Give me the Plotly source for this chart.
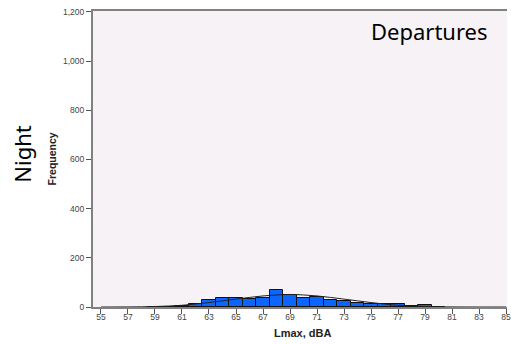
import plotly.graph_objects as go

# Histogram bins (Lmax, dBA, 1-dB bins centred on integers) and counts
bin_centers = [59, 60, 61, 62, 63, 64, 65, 66, 67, 68, 69, 70, 71, 72, 73, 74, 75, 76, 77, 78, 79, 80]
counts      = [1, 2, 5, 14, 27, 38, 38, 34, 37, 68, 50, 38, 41, 27, 23, 18, 12, 14, 13, 4, 7, 2]

# Fitted normal curve
curve_x = [55, 56, 57, 58, 59, 60, 61, 62, 63, 64, 65, 66, 67, 68, 69, 70,
           71, 72, 73, 74, 75, 76, 77, 78, 79, 80, 81, 82, 83, 84, 85]
curve_y = [0, 0.1, 0.3, 0.8, 2, 4, 7, 12, 18, 25, 32, 39, 45, 49, 51, 49,
           45, 39, 32, 25, 18, 12, 7, 4, 2, 0.8, 0.3, 0.1, 0, 0, 0]

x_ticks = list(range(55, 86, 2))
y_ticks = [0, 200, 400, 600, 800, 1000, 1200]

fig = go.Figure()
fig.add_trace(go.Bar(
    x=bin_centers, y=counts, width=1,
    marker=dict(color="#0A66FF", line=dict(color="#111111", width=1)),
    showlegend=False, hoverinfo="x+y"))
fig.add_trace(go.Scatter(
    x=curve_x, y=curve_y, mode="lines",
    line=dict(color="#222222", width=1, shape="spline"),
    showlegend=False))

fig.update_layout(
    width=511, height=344,
    margin=dict(l=93, r=0, t=11, b=37),
    paper_bgcolor="white",
    plot_bgcolor="#F7F2F6",
    bargap=0,
    font=dict(family="Arial, Liberation Sans", size=8.5, color="#444444"),
    xaxis=dict(
        range=[54.41, 85.07], tickvals=x_ticks,
        showline=True, linecolor="#808080", linewidth=2, mirror=True,
        ticks="outside", ticklen=5, tickcolor="#555555", tickwidth=1,
        ticklabelstandoff=-4, ticklabeloverflow="allow",
        showgrid=False, zeroline=False,
        tickfont=dict(size=8.5, color="#444444")),
    yaxis=dict(
        range=[0, 1204], tickvals=y_ticks, tickformat=",",
        showline=True, linecolor="#808080", linewidth=2,
        ticks="outside", ticklen=5, tickcolor="#555555", tickwidth=1,
        showgrid=False, zeroline=False,
        tickfont=dict(size=8.5, color="#444444")),
    annotations=[
        dict(text="Departures", xref="paper", yref="paper",
             x=(372 - 93) / 418, y=1 - (31 - 11) / 296,
             xanchor="left", yanchor="middle", showarrow=False,
             font=dict(family="Noto Sans", size=22, color="#000000")),
        dict(text="Night", xref="paper", yref="paper",
             x=(21 - 93) / 418, y=1 - (154 - 11) / 296,
             xanchor="center", yanchor="middle", showarrow=False, textangle=-90,
             font=dict(family="Noto Sans", size=22, color="#000000")),
        dict(text="<b>Frequency</b>", xref="paper", yref="paper",
             x=(52 - 93) / 418, y=1 - (159 - 11) / 296,
             xanchor="center", yanchor="middle", showarrow=False, textangle=-90,
             font=dict(family="Arial, Liberation Sans", size=10.5, color="#222222")),
        dict(text="<b>Lmax, dBA</b>", xref="paper", yref="paper",
             x=(305 - 93) / 418, y=-(333 - 307) / 296,
             xanchor="center", yanchor="middle", showarrow=False,
             font=dict(family="Arial, Liberation Sans", size=11, color="#222222")),
    ],
)

fig.write_html("out.html")
